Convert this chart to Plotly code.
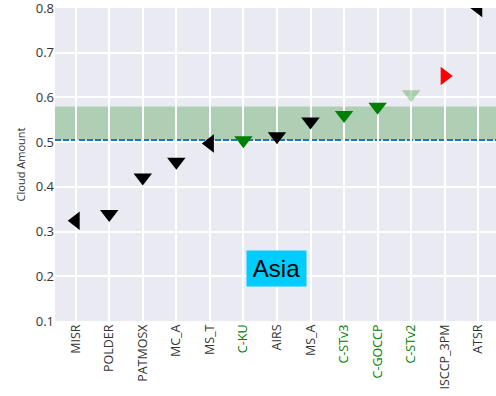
import plotly.graph_objects as go

# Regional cloud amount by dataset (Asia), sorted ascending
datasets = ["MISR", "POLDER", "PATMOSX", "MC_A", "MS_T", "C-KU", "AIRS",
            "MS_A", "C-STv3", "C-GOCCP", "C-STv2", "ISCCP_3PM", "ATSR"]
cloud_amount = [0.324, 0.339, 0.421, 0.456, 0.497, 0.504, 0.513,
                0.546, 0.561, 0.579, 0.607, 0.648, 0.800]
symbols = ["triangle-left", "triangle-down", "triangle-down", "triangle-down",
           "triangle-left", "triangle-down", "triangle-down", "triangle-down",
           "triangle-down", "triangle-down", "triangle-down", "triangle-right",
           "triangle-left"]
marker_colors = ["black", "black", "black", "black", "black", "green", "black",
                 "black", "green", "green", "rgba(0,128,0,0.28)", "red", "black"]
label_colors = ["#333", "#333", "#333", "#333", "#333", "green", "#333",
                "#333", "green", "green", "green", "#333", "#333"]

# Reference mean and spread band
mean_value = 0.505
band_low, band_high = 0.505, 0.580

y_ticks = [0.1, 0.2, 0.3, 0.4, 0.5, 0.6, 0.7, 0.8]
region = "Asia"

x_idx = list(range(len(datasets)))
tick_text = [f'<span style="color:{c}">{d}</span>' for d, c in zip(datasets, label_colors)]

fig = go.Figure()

fig.add_trace(go.Scatter(
    x=x_idx, y=cloud_amount, mode="markers",
    marker=dict(symbol=symbols, color=marker_colors, size=16, line=dict(width=0)),
    cliponaxis=True, showlegend=False, hoverinfo="skip",
))

# Spread band and mean line across the full width
fig.add_shape(type="rect", xref="paper", yref="y", x0=0, x1=1,
              y0=band_low, y1=band_high, fillcolor="rgba(0,128,0,0.25)",
              line=dict(width=0), layer="below")
fig.add_shape(type="line", xref="paper", yref="y", x0=0, x1=1,
              y0=mean_value, y1=mean_value,
              line=dict(color="#1f77b4", width=2, dash="6px,2px"), layer="below")

fig.add_annotation(x=6, y=0.218, xref="x", yref="y", text=region, showarrow=False,
                   font=dict(family="Liberation Sans, Arial", size=24, color="black"),
                   bgcolor="#00CCFF", width=59, height=35, borderpad=0)

fig.update_layout(
    width=496, height=396,
    margin=dict(l=55, r=0, t=7.5, b=75),
    paper_bgcolor="white", plot_bgcolor="#EAEAF2",
    font=dict(family="Open Sans, Noto Sans, sans-serif", color="#333"),
)
fig.update_xaxes(
    range=[-0.617, 12.53], tickmode="array", tickvals=x_idx, ticktext=tick_text,
    tickangle=-90, tickfont=dict(size=12.5), showgrid=True, gridcolor="white",
    gridwidth=1.5, zeroline=False, showline=False, ticks="",
)
fig.update_yaxes(
    range=[0.0999, 0.8001], tickmode="array", tickvals=y_ticks,
    ticktext=[f"{v:.1f}" for v in y_ticks], tickfont=dict(size=13),
    ticklabeloverflow="allow",
    showgrid=True, gridcolor="white", gridwidth=1.5, zeroline=False,
    showline=False, ticks="",
    title=dict(text="Cloud Amount", font=dict(size=11, color="#333"), standoff=7),
)

fig.write_html("out.html")
